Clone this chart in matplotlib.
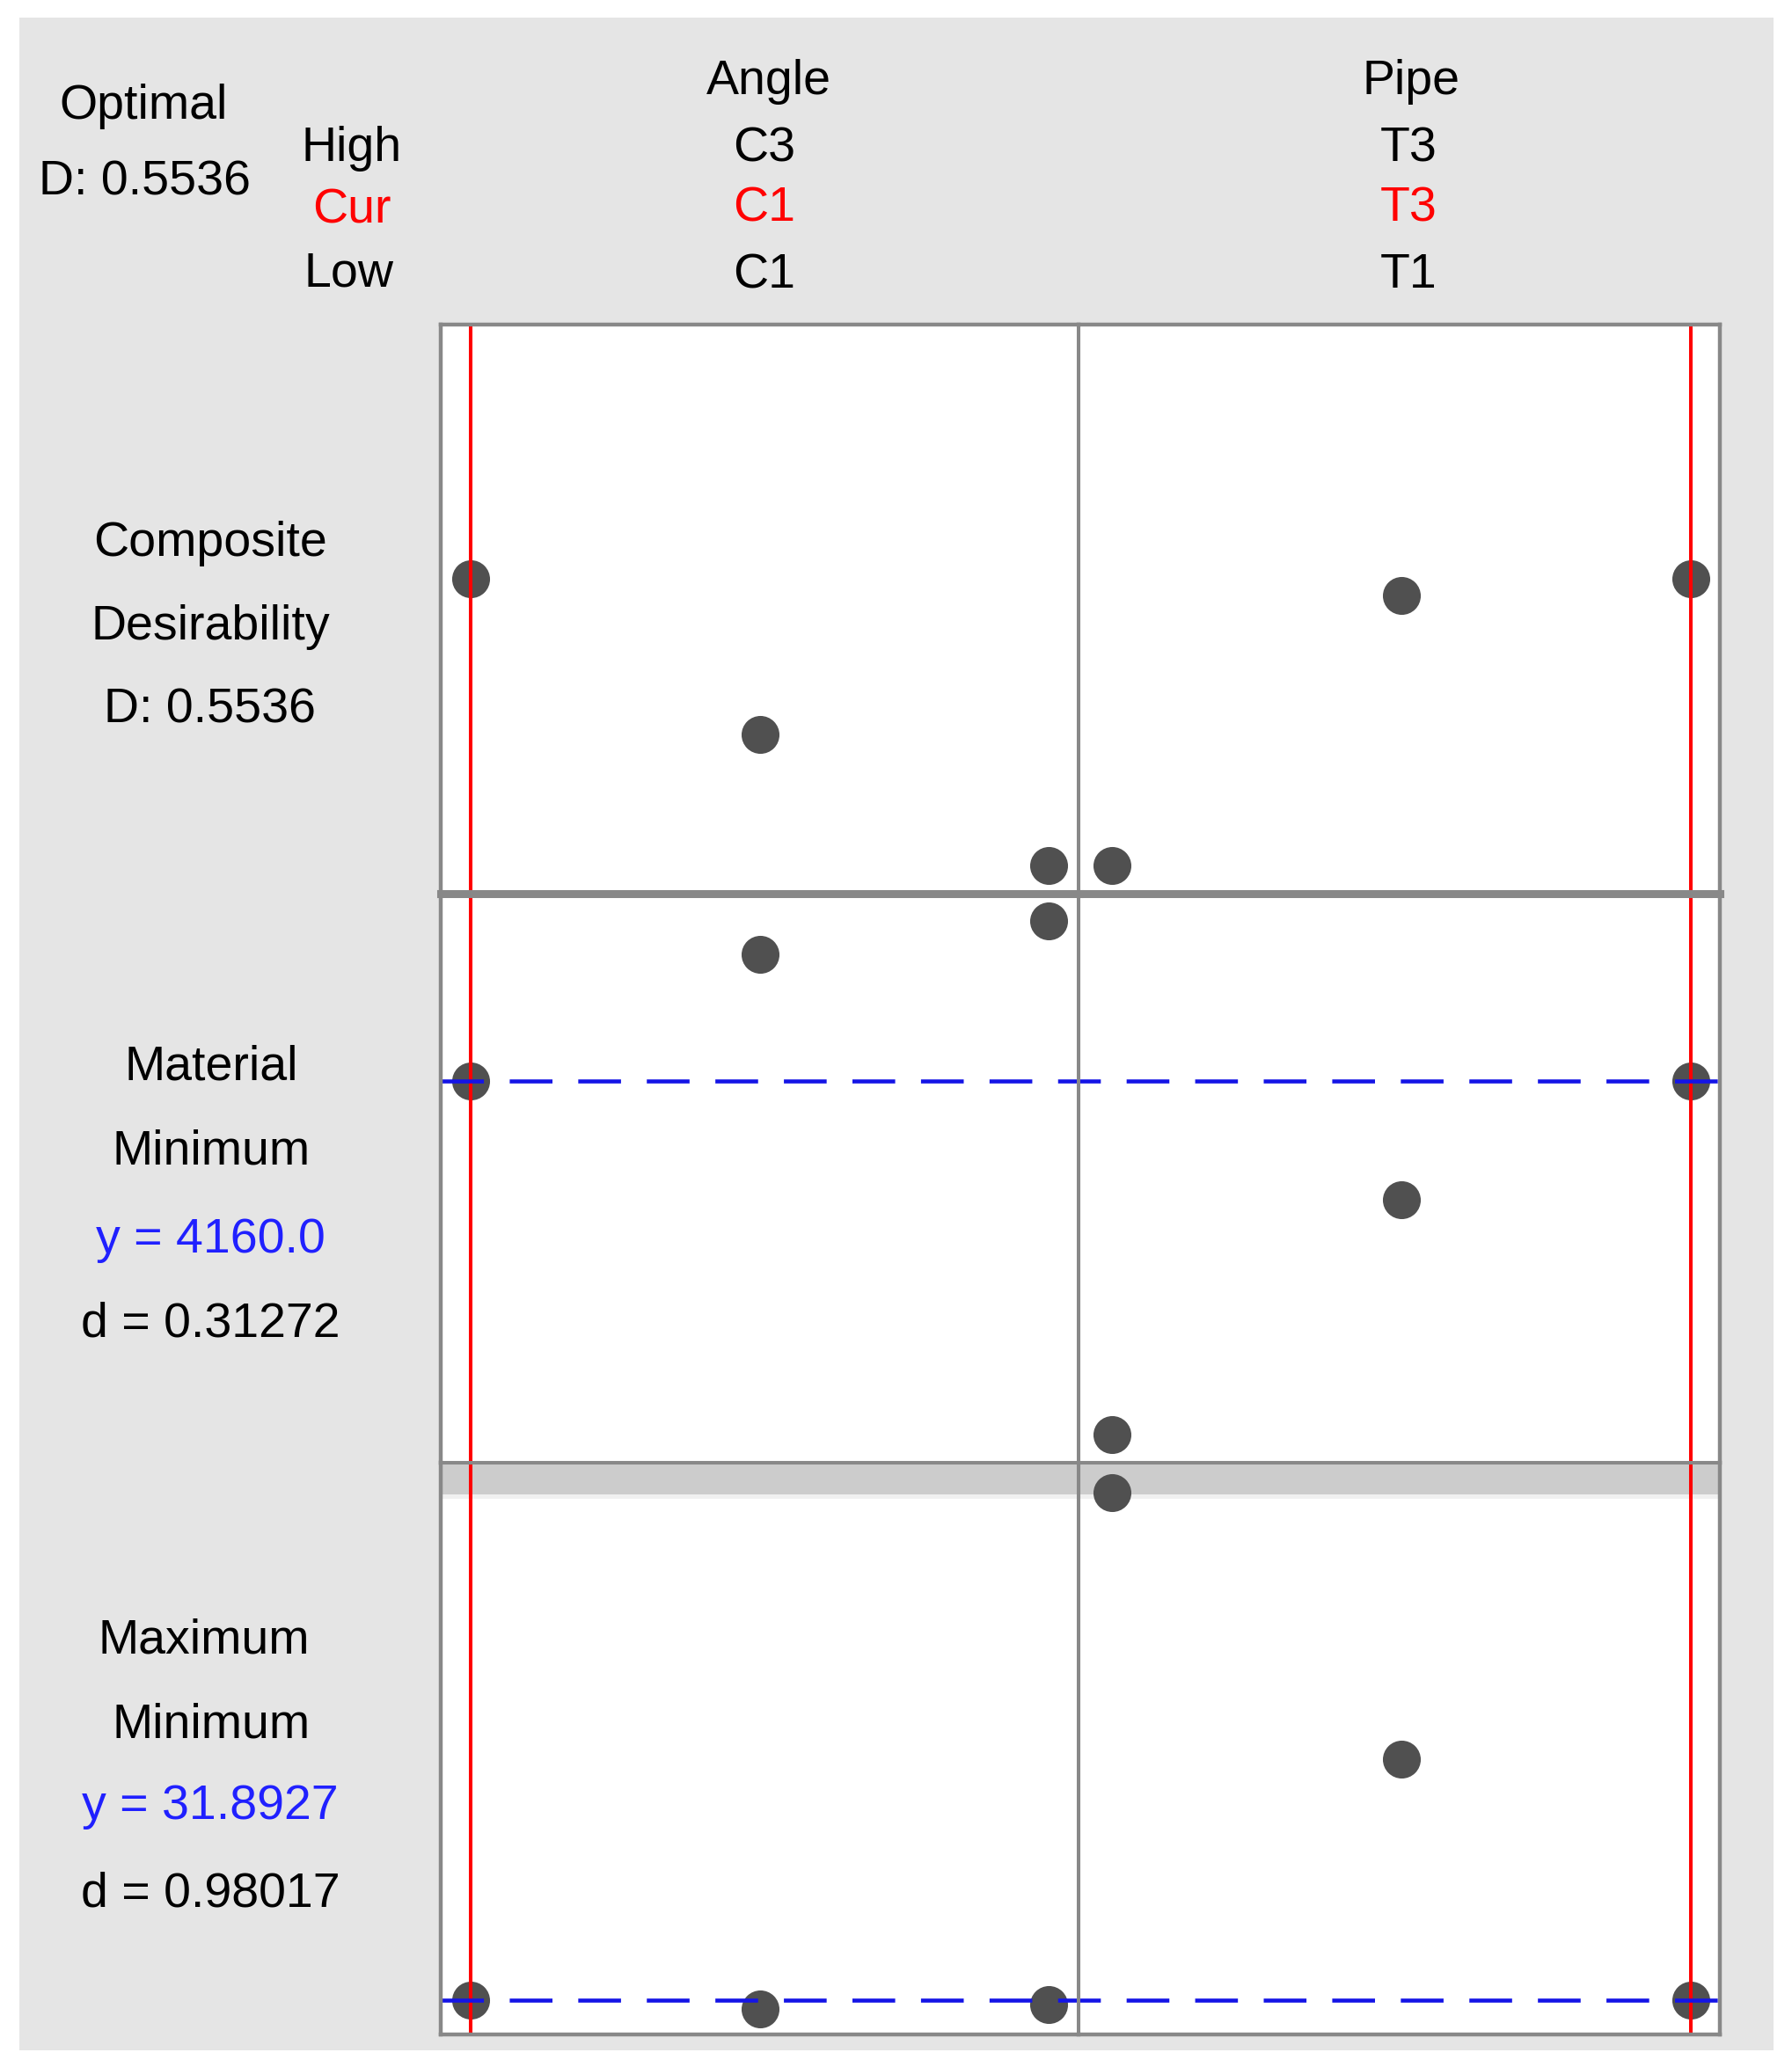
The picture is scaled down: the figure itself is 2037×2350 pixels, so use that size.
import matplotlib
matplotlib.use('Agg')
import matplotlib.pyplot as plt
from matplotlib.patches import Rectangle

# factor levels
angle_levels = ['C1', 'C2', 'C3']
pipe_levels = ['T1', 'T2', 'T3']
angle_cur = 'C1'
pipe_cur = 'T3'
angle_high, angle_low = 'C3', 'C1'
pipe_high, pipe_low = 'T3', 'T1'

# composite desirability
comp_angle = [0.5536, 0.280, 0.050]
comp_pipe = [0.050, 0.524, 0.5536]
comp_D = 0.5536

# Material (minimize)
mat_angle = [4160.0, 4428.0, 4499.0]
mat_pipe = [3409.0, 3907.0, 4160.0]
mat_y = 4160.0
mat_d = 0.31272

# Maximum Minimum (minimize)
mm_angle = [31.8927, 31.41, 31.65]
mm_pipe = [59.85, 45.17, 31.8927]
mm_y = 31.8927
mm_d = 0.98017

W, H = 2037, 2350
fig = plt.figure(figsize=(W / 100, H / 100), dpi=100, facecolor='white')
FONT = ['Liberation Sans', 'DejaVu Sans']
FS = 40
GRAY = '#888888'
DOT = '#505050'
BLUE = '#1414e6'

# grey window background
fig.add_artist(Rectangle((22 / W, 1 - 2331 / H), (2016 - 22) / W, (2331 - 20) / H,
                         transform=fig.transFigure, facecolor='#e5e5e5',
                         edgecolor='none', zorder=0))


def txt(x, y, s, color='black'):
    fig.text(x / W, 1 - y / H, s, ha='center', va='baseline', fontsize=FS,
             color=color, family=FONT)


# header
txt(163, 135, 'Optimal')
txt(164, 222, 'D: %.4f' % comp_D)
txt(400, 183, 'High')
txt(400, 254, 'Cur', 'red')
txt(397, 325, 'Low')
txt(874, 107, 'Angle')
txt(869, 183, angle_high)
txt(869, 252, angle_cur, 'red')
txt(869, 327, angle_low)
txt(1604, 107, 'Pipe')
txt(1601, 183, pipe_high)
txt(1601, 252, pipe_cur, 'red')
txt(1601, 327, pipe_low)

# left row labels
txt(239, 632, 'Composite')
txt(239, 727, 'Desirability')
txt(239, 822, 'D: %.4f' % comp_D)
txt(240, 1227, 'Material')
txt(240, 1324, 'Minimum')
txt(239, 1424, 'y = %.1f' % mat_y, '#2020ff')
txt(239, 1520, 'd = %.5f' % mat_d)
txt(232, 1879, 'Maximum')
txt(240, 1975, 'Minimum')
txt(239, 2068, 'y = %.4f' % mm_y, '#2020ff')
txt(239, 2167, 'd = %.5f' % mm_d)

rows = [(369, 1016), (1016, 1663), (1663, 2313)]
cols = [(501, 1226), (1226, 1955)]
ylims = [(0, 1), (3350, 4557), (30, 61.5)]
xlims = [(0.8965, 3.1035), (0.885, 3.1)]
data = [[comp_angle, comp_pipe], [mat_angle, mat_pipe], [mm_angle, mm_pipe]]
levels = [angle_levels, pipe_levels]
cur = [angle_levels.index(angle_cur) + 1, pipe_levels.index(pipe_cur) + 1]
cur_y = [None, mat_y, mm_y]
band_lo = 59.75

for r, (y0, y1) in enumerate(rows):
    for c, (x0, x1) in enumerate(cols):
        ax = fig.add_axes([x0 / W, 1 - y1 / H, (x1 - x0) / W, (y1 - y0) / H])
        ax.set_zorder(2 - c)
        ax.set_facecolor('white')
        ax.set_xlim(*xlims[c])
        ax.set_ylim(*ylims[r])
        ax.set_xticks([])
        ax.set_yticks([])
        xs = list(range(1, len(levels[c]) + 1))
        ax.plot(xs, data[r][c], 'o', color=DOT, markersize=31,
                markeredgewidth=0, linestyle='none', zorder=2)
        ax.axvline(cur[c], color='red', lw=2.9, zorder=2.2)
        if r == 2:
            ax.axhspan(band_lo, ylims[r][1], color='#cccccc', lw=0, zorder=1)
            ax.axhspan(band_lo - 0.25, band_lo, color='#f0f0f0', lw=0, zorder=1)
        if cur_y[r] is not None and c == 0:
            span = (cols[1][1] - cols[0][0]) / (x1 - x0)
            ax.axhline(cur_y[r], xmin=0, xmax=span, color=BLUE, lw=3.3,
                       dashes=(10.6, 6.4), clip_on=False, zorder=2.3)
        for name, sp in ax.spines.items():
            sp.set_color(GRAY)
            sp.set_linewidth(3.2)
            sp.set_zorder(2.5)
        if c == 0:
            ax.spines['right'].set_linewidth(2.9)
        else:
            ax.spines['left'].set_linewidth(2.9)
        if r == 0:
            ax.spines['bottom'].set_linewidth(6.5)
        if r == 1:
            ax.spines['top'].set_linewidth(6.5)
            ax.spines['bottom'].set_linewidth(2.9)
        if r == 2:
            ax.spines['top'].set_linewidth(2.9)

fig.savefig('out.png', dpi=100, facecolor='white')
